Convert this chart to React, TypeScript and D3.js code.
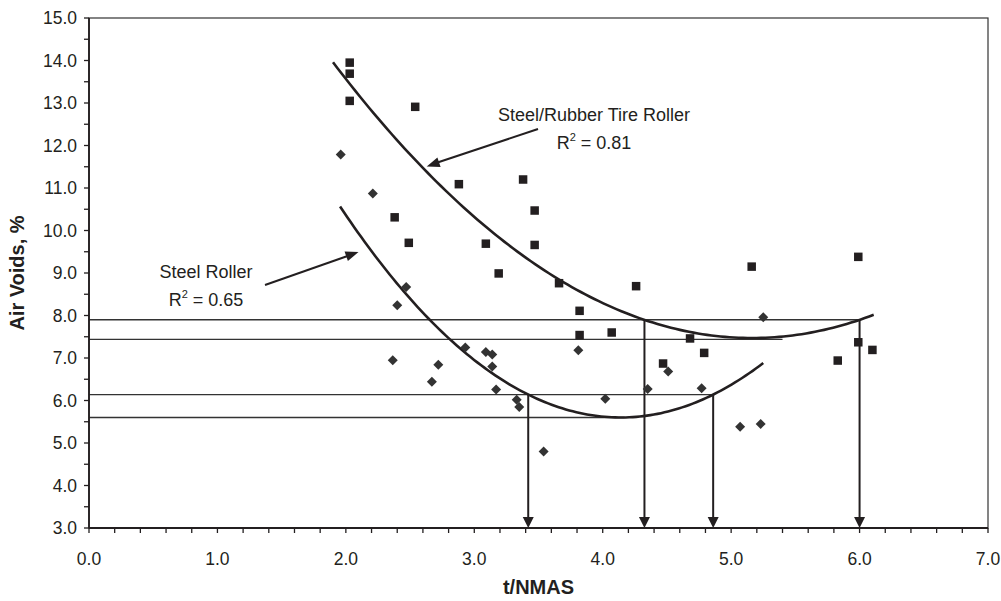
import React from "react";
import * as d3 from "d3";

// ---- data ----
const rubberX = [2.03, 2.03, 2.03, 2.54, 2.88, 3.38, 3.47, 2.38, 2.49, 3.09, 3.47, 3.19, 3.66, 4.26, 3.82, 3.82, 4.07, 4.68, 4.79, 4.47, 5.16, 5.99, 5.99, 6.10, 5.83];
const rubberY = [13.95, 13.69, 13.05, 12.91, 11.09, 11.20, 10.47, 10.31, 9.71, 9.69, 9.66, 8.99, 8.76, 8.69, 8.11, 7.54, 7.60, 7.46, 7.12, 6.87, 9.15, 9.38, 7.37, 7.19, 6.94];

const steelX = [1.96, 2.21, 2.47, 2.40, 2.365, 2.67, 2.72, 2.93, 3.09, 3.14, 3.14, 3.17, 3.33, 3.35, 3.54, 3.81, 4.02, 4.35, 4.51, 4.77, 5.07, 5.25, 5.23];
const steelY = [11.79, 10.87, 8.67, 8.24, 6.95, 6.44, 6.84, 7.25, 7.14, 7.08, 6.80, 6.26, 6.02, 5.85, 4.80, 7.18, 6.04, 6.27, 6.68, 6.29, 5.38, 7.96, 5.45];

// quadratic trendlines (vertex form a*(x-h)^2 + k) and their x ranges
const rubberFit = { a: 0.6095, h: 5.1625, k: 7.47, x0: 1.9, x1: 6.11 };
const steelFit = { a: 1.04, h: 4.14, k: 5.6, x0: 1.955, x1: 5.25 };

// horizontal guide lines: value and where they stop
const guideY = [7.9, 7.44, 6.14, 5.6];
const guideXEnd = [6.0, 5.4, 4.86, 4.17];

// vertical arrows: x position and value they start from
const arrowX = [3.42, 4.325, 4.86, 6.0];
const arrowFromY = [6.14, 7.9, 6.14, 7.9];

const xTicks = [0, 1, 2, 3, 4, 5, 6, 7];
const yTicks = [3, 4, 5, 6, 7, 8, 9, 10, 11, 12, 13, 14, 15];

const FONT = '"Liberation Sans", Arial, Helvetica, sans-serif';
const INK = "#231f20";

export default function App() {
  const W = 1001, H = 601;
  const left = 89, right = 988, top = 18, bottom = 528;
  const x = d3.scaleLinear().domain([0, 7]).range([left, right]);
  const y = d3.scaleLinear().domain([3, 15]).range([bottom, top]);

  const curve = (f: typeof rubberFit) => {
    const n = 120;
    const pts: [number, number][] = d3.range(n + 1).map((i) => {
      const xv = f.x0 + ((f.x1 - f.x0) * i) / n;
      return [xv, f.a * (xv - f.h) * (xv - f.h) + f.k];
    });
    return d3.line<[number, number]>().x((d) => x(d[0])).y((d) => y(d[1]))(pts) || "";
  };

  const xMinor = d3.range(0, 7.0001, 0.2);
  const yMinor = d3.range(3, 15.0001, 0.5);

  const arrowHead = (tx: number, ty: number, fx: number, fy: number, len = 13, wid = 9) => {
    const ang = Math.atan2(ty - fy, tx - fx);
    const bx = tx - len * Math.cos(ang), by = ty - len * Math.sin(ang);
    const px = -Math.sin(ang) * wid / 2, py = Math.cos(ang) * wid / 2;
    return `M${tx},${ty}L${bx + px},${by + py}L${bx - px},${by - py}Z`;
  };

  return (
    <svg width={W} height={H} style={{ position: "absolute", left: 0, top: 0, background: "#fff" }} fontFamily={FONT}>
      <rect x={0} y={0} width={W} height={H} fill="#fff" />
      {/* guides */}
      {guideY.map((g, i) => (
        <line key={"g" + i} x1={left} x2={x(guideXEnd[i])} y1={y(g)} y2={y(g)} stroke="#333" strokeWidth={1.3} />
      ))}
      {/* vertical arrows */}
      {arrowX.map((a, i) => (
        <g key={"va" + i}>
          <line x1={x(a)} x2={x(a)} y1={y(arrowFromY[i])} y2={bottom - 10} stroke={INK} strokeWidth={2} />
          <path d={arrowHead(x(a), bottom, x(a), y(arrowFromY[i]), 11, 11)} fill={INK} />
        </g>
      ))}
      {/* trend curves */}
      <path d={curve(rubberFit)} fill="none" stroke={INK} strokeWidth={2.6} />
      <path d={curve(steelFit)} fill="none" stroke={INK} strokeWidth={2.6} />
      {/* frame */}
      <rect x={left} y={top} width={right - left} height={bottom - top} fill="none" stroke="#333" strokeWidth={1.2} />
      <line x1={left} x2={left} y1={top} y2={bottom} stroke={INK} strokeWidth={1.8} />
      <line x1={left} x2={right} y1={bottom} y2={bottom} stroke={INK} strokeWidth={1.8} />
      {/* ticks */}
      {xMinor.map((t, i) => (
        <line key={"xt" + i} x1={x(t)} x2={x(t)} y1={bottom} y2={bottom + 5} stroke={INK} strokeWidth={1.3} />
      ))}
      {yMinor.map((t, i) => (
        <line key={"yt" + i} x1={left - 5} x2={left} y1={y(t)} y2={y(t)} stroke={INK} strokeWidth={1.3} />
      ))}
      {xTicks.map((t) => (
        <text key={"xl" + t} x={x(t)} y={565} textAnchor="middle" fontSize={17.5} fill={INK}>
          {t.toFixed(1)}
        </text>
      ))}
      {yTicks.map((t) => (
        <text key={"yl" + t} x={77} y={y(t)} dy="0.36em" textAnchor="end" fontSize={17.5} fill={INK}>
          {t.toFixed(1)}
        </text>
      ))}
      {/* axis titles */}
      <text x={(left + right) / 2} y={594} textAnchor="middle" fontSize={20} fontWeight="bold" fill={INK}>
        t/NMAS
      </text>
      <text transform={`translate(24,${(top + bottom) / 2}) rotate(-90)`} textAnchor="middle" fontSize={20} fontWeight="bold" fill={INK}>
        Air Voids, %
      </text>
      {/* points */}
      {rubberX.map((v, i) => (
        <rect key={"r" + i} x={x(v) - 4.25} y={y(rubberY[i]) - 4.25} width={8.5} height={8.5} fill={INK} />
      ))}
      {steelX.map((v, i) => (
        <path key={"s" + i} d={`M${x(v)},${y(steelY[i]) - 5}l5,5l-5,5l-5,-5Z`} fill="#333" />
      ))}
      {/* annotations */}
      <text x={594} y={121} textAnchor="middle" fontSize={18} fill={INK}>Steel/Rubber Tire Roller</text>
      <text x={594} y={149} textAnchor="middle" fontSize={18} fill={INK}>
        R<tspan fontSize={11} dy={-8}>2</tspan><tspan dy={8}> = 0.81</tspan>
      </text>
      <line x1={538} y1={129} x2={436} y2={163} stroke={INK} strokeWidth={2} />
      <path d={arrowHead(426.7, 166.5, 538, 129, 13, 10)} fill={INK} />
      <text x={206} y={278} textAnchor="middle" fontSize={18} fill={INK}>Steel Roller</text>
      <text x={206} y={306} textAnchor="middle" fontSize={18} fill={INK}>
        R<tspan fontSize={11} dy={-8}>2</tspan><tspan dy={8}> = 0.65</tspan>
      </text>
      <line x1={265} y1={285} x2={349} y2={255.5} stroke={INK} strokeWidth={2} />
      <path d={arrowHead(358.5, 252, 265, 285, 13, 10)} fill={INK} />
    </svg>
  );
}
